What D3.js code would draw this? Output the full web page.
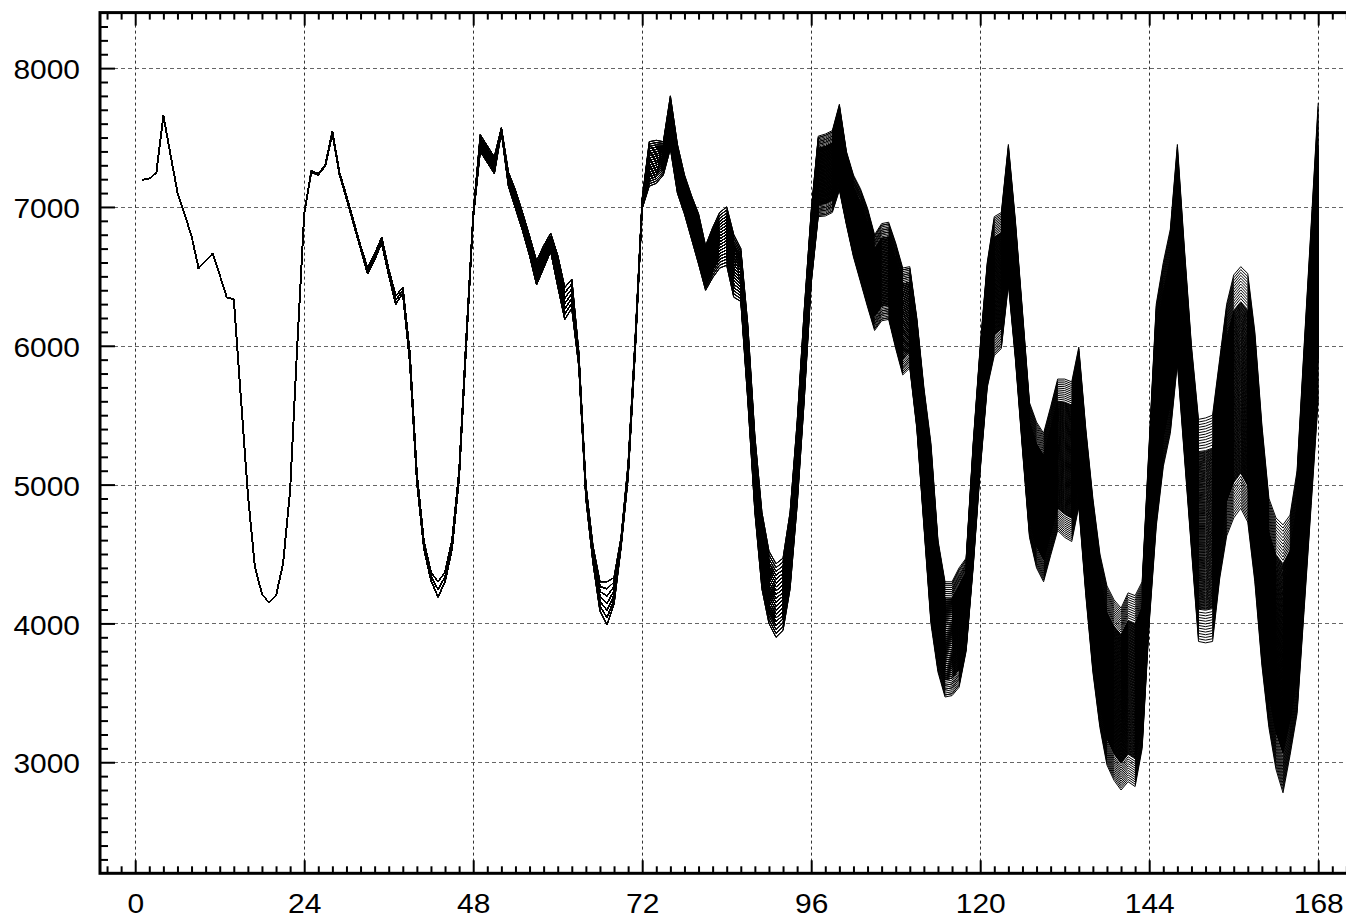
<!DOCTYPE html>
<html><head><meta charset="utf-8">
<script src="https://cdn.jsdelivr.net/npm/d3@7"></script>
<style>
body{margin:0;background:#fff;}
svg{display:block;}
text{font-family:"Liberation Sans",Arial,Helvetica,sans-serif;}
</style>
</head><body>
<svg id="chart" width="1346" height="919"></svg>
<script>
// ---------- data ----------
const hours = d3.range(1, 169);           // hourly points 1..168
// upper envelope of the simulated paths, per hour
const upperBound = [
  7195,7205,7245,7659,7380,7104,6950,6790,6560,6612,6666,6510,6349,6336,5630,4930,4405,4212,4150,4200,4430,4960,5990,6950,
  7260,7240,7305,7545,7250,7080,6900,6720,6560,6660,6780,6550,6360,6420,5950,5080,4590,4370,4300,4370,4600,5100,6050,6950,
  7520,7440,7360,7570,7250,7120,6960,6790,6610,6720,6810,6650,6420,6480,5950,5000,4560,4300,4300,4330,4620,5150,6050,7060,
  7470,7480,7470,7800,7450,7230,7080,6950,6720,6850,6960,7000,6800,6700,6150,5350,4800,4520,4430,4470,4800,5450,6250,6970,
  7510,7525,7550,7740,7400,7230,7130,6990,6800,6880,6890,6740,6560,6570,6200,5700,5300,4600,4300,4300,4400,4470,5300,6000,
  6600,6930,6960,7450,6900,6250,5590,5450,5370,5560,5760,5760,5740,5990,5400,4900,4500,4270,4170,4110,4220,4200,4300,5300,
  6300,6600,6840,7450,6700,6000,5470,5480,5500,5900,6300,6510,6570,6520,6100,5430,4900,4760,4710,4780,5100,6000,6870,7750
];
// lower envelope of the simulated paths, per hour
const lowerBound = [
  7195,7205,7245,7659,7380,7104,6950,6790,6560,6612,6666,6510,6349,6336,5630,4930,4405,4212,4150,4200,4430,4960,5990,6950,
  7250,7230,7295,7530,7235,7060,6880,6700,6520,6620,6740,6510,6300,6380,5880,5020,4540,4310,4190,4300,4540,5050,5990,6920,
  7400,7320,7240,7540,7150,6990,6830,6650,6440,6560,6680,6430,6190,6270,5850,4900,4440,4090,3990,4140,4550,5050,5950,6990,
  7150,7170,7230,7420,7100,6950,6770,6590,6400,6490,6560,6580,6350,6320,5600,4800,4250,4000,3900,3950,4250,4850,5600,6450,
  6930,6935,6960,7120,6870,6640,6460,6280,6110,6180,6190,5980,5790,5840,5400,4700,4000,3650,3470,3480,3540,3800,4400,5100,
  5700,5930,5980,6440,5900,5250,4620,4400,4300,4490,4670,4620,4590,4840,4200,3650,3250,2980,2870,2800,2860,2825,3100,4000,
  4700,5130,5370,5870,5200,4530,3870,3860,3870,4320,4630,4760,4830,4730,4300,3700,3250,2950,2780,3050,3350,4100,4850,5610
];
// number of distinct branches visible on each day
const branchesPerDay = [1, 3, 7, 20, 60, 1000, 1000];
const edgePaths = 12;      // sparse paths near each edge of the fan
const corePaths = 220;     // dense paths in the core of the fan
const xTickValues = [0, 24, 48, 72, 96, 120, 144, 168];
const yTickValues = [3000, 4000, 5000, 6000, 7000, 8000];

// ---------- layout ----------
const L = 100, T = 12.6, B = 873.3;
const pxPerHour = 169 / 24;
const x = d3.scaleLinear().domain([-5, 173]).range([L, L + 178 * pxPerHour]);
const y = d3.scaleLinear().domain([2200, 8400]).range([B, T]);
const R = x(173);

const svg = d3.select("#chart");

// grid
svg.append("g").selectAll("line").data(yTickValues).join("line")
  .attr("x1", L).attr("x2", R).attr("y1", d => Math.round(y(d)) + 0.5).attr("y2", d => Math.round(y(d)) + 0.5)
  .attr("stroke", "#666").attr("stroke-width", 1).attr("stroke-dasharray", "4,3");
svg.append("g").selectAll("line").data(xTickValues).join("line")
  .attr("y1", T).attr("y2", B).attr("x1", d => Math.round(x(d)) + 0.5).attr("x2", d => Math.round(x(d)) + 0.5)
  .attr("stroke", "#333").attr("stroke-width", 1).attr("stroke-dasharray", "3,3");

// fan positions (0 = lower envelope, 1 = upper envelope)
const edgeStep = 0.012;
const coreLo = edgePaths * edgeStep, coreHi = 1 - coreLo;
const fanPos = [
  ...d3.range(edgePaths).map(i => i * edgeStep),
  ...d3.range(corePaths).map(i => coreLo + (i + 0.5) * (coreHi - coreLo) / corePaths),
  ...d3.range(edgePaths).map(i => 1 - i * edgeStep)
];

const paths = fanPos.map(k => hours.map((h, i) => {
  const n = branchesPerDay[Math.floor(i / 24)];
  const q = n <= 1 ? 0.5 : Math.round(k * (n - 1)) / (n - 1);
  return [h, lowerBound[i] + q * (upperBound[i] - lowerBound[i])];
}));
const line = d3.line().x(d => x(d[0])).y(d => y(d[1]));
svg.append("g").selectAll("path").data(paths).join("path")
  .attr("d", line).attr("fill", "none").attr("stroke", "#000").attr("stroke-width", 1);

// frame
svg.append("rect").attr("x", L).attr("y", T).attr("width", R - L).attr("height", B - T)
  .attr("fill", "none").attr("stroke", "#000").attr("stroke-width", 3);

// ticks
const minorX = d3.range(-4, 173, 2).filter(v => v % 24 !== 0);
const minorY = d3.range(2300, 8400, 100).filter(v => v % 1000 !== 0);
function tickGroup(axis, tx, ty) {
  const g = svg.append("g").attr("transform", `translate(${tx},${ty})`).call(axis);
  g.select(".domain").remove();
  g.selectAll("line").attr("stroke", "#000").attr("stroke-width", 2);
  g.selectAll("text").remove();
  return g;
}
tickGroup(d3.axisBottom(x).tickValues(minorX).tickSize(-7), 0, B);
tickGroup(d3.axisBottom(x).tickValues(xTickValues).tickSize(-13), 0, B);
tickGroup(d3.axisTop(x).tickValues(minorX).tickSize(-7), 0, T);
tickGroup(d3.axisTop(x).tickValues(xTickValues).tickSize(-13), 0, T);
tickGroup(d3.axisLeft(y).tickValues(minorY).tickSize(-8), L, 0);
tickGroup(d3.axisLeft(y).tickValues(yTickValues).tickSize(-15), L, 0);

// labels (font is slightly wider than Liberation Sans -> horizontal stretch)
const stretch = 1.07;
const xl = svg.append("g").attr("transform", `translate(0,${B})`)
  .call(d3.axisBottom(x).tickValues(xTickValues).tickFormat(d3.format("d")).tickSize(0).tickPadding(19.5));
xl.select(".domain").remove();
xl.selectAll("text").attr("font-size", 28).attr("fill", "#000")
  .attr("font-family", '"Liberation Sans",Arial,sans-serif')
  .attr("transform", `scale(${stretch},1)`);
const yl = svg.append("g").attr("transform", `translate(${L},0)`)
  .call(d3.axisLeft(y).tickValues(yTickValues).tickFormat(d3.format("d")).tickSize(0).tickPadding(20));
yl.select(".domain").remove();
yl.selectAll("text").attr("font-size", 28).attr("fill", "#000")
  .attr("font-family", '"Liberation Sans",Arial,sans-serif')
  .attr("x", -20 / stretch).attr("dy", "0.38em")
  .attr("transform", `scale(${stretch},1)`);
</script>
</body></html>
